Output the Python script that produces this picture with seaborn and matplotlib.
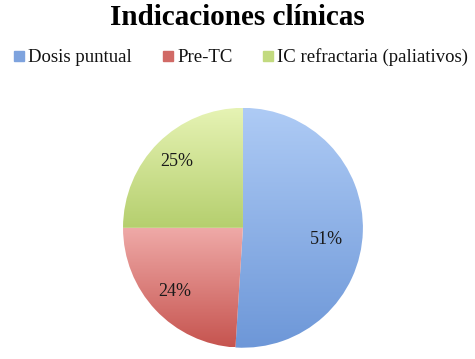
import numpy as np
import matplotlib
matplotlib.use("Agg")
import matplotlib.pyplot as plt
import seaborn as sns
from matplotlib.colors import LinearSegmentedColormap
from matplotlib.lines import Line2D

categories = ["Dosis puntual", "Pre-TC", "IC refractaria (paliativos)"]
values = [51, 24, 25]
title = "Indicaciones clínicas"

# gradient (top, bottom) per slice, Excel-like
grad_top = ["#aecbf5", "#efaaa8", "#e6f3b4"]
grad_bottom = ["#6d97d8", "#c6544f", "#b5cf6e"]
legend_colors = ["#7ea3de", "#d16a66", "#c2da7f"]

sns.set_theme(style="white")
plt.rcParams["font.family"] = ["Liberation Serif", "DejaVu Serif"]

fig = plt.figure(figsize=(4.75, 3.59), dpi=100)
ax = fig.add_axes([0.259, 0.031, 0.505, 0.669])

wedges, texts, autotexts = ax.pie(
    values, startangle=90, counterclock=False,
    autopct="%1.0f%%", pctdistance=0.78,
    textprops={"fontsize": 13, "color": "#1a1a1a"},
    wedgeprops={"linewidth": 0},
)

grad = np.linspace(0, 1, 256).reshape(-1, 1)
for w, top, bot in zip(wedges, grad_top, grad_bottom):
    w.set_facecolor("none")
    bb = w.get_path().get_extents(w.get_transform() - ax.transData)
    cmap = LinearSegmentedColormap.from_list("g", [top, bot])
    im = ax.imshow(grad, cmap=cmap, aspect="auto",
                   extent=[bb.x0, bb.x1, bb.y0, bb.y1], origin="upper",
                   zorder=0.5)
    im.set_clip_path(w)

for t in autotexts:
    t.set_zorder(3)
autotexts[0].set_position((0.70, -0.1))

ax.set_xlim(-1.0, 1.0)
ax.set_ylim(-1.0, 1.0)
ax.set_aspect("equal")
ax.axis("off")

fig.suptitle(title, fontsize=21, fontweight="bold", color="black", y=0.99)

handles = [Line2D([0], [0], marker="s", linestyle="none", markersize=7,
                  markerfacecolor=c, markeredgecolor=c) for c in legend_colors]
fig.legend(handles, categories, loc="upper center", ncol=3,
           bbox_to_anchor=(0.505, 0.912), frameon=False, fontsize=13.5,
           handletextpad=0.1, columnspacing=1.5, handlelength=0.8,
           labelcolor="#111111")

fig.savefig("out.png", dpi=100)
